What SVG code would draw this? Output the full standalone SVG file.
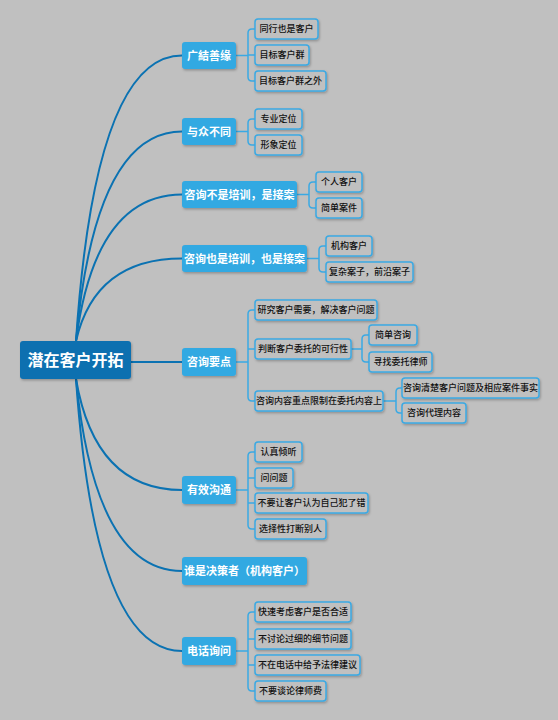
<svg xmlns="http://www.w3.org/2000/svg" width="558" height="720" viewBox="0 0 558 720">
<defs>
<filter id="sh" x="-10%" y="-20%" width="130%" height="160%">
<feDropShadow dx="1" dy="1.5" stdDeviation="1" flood-color="#000" flood-opacity="0.25"/>
</filter>
<style>
.root rect{fill:#0b70b0;filter:url(#sh)}
.root text{fill:#fff;font:bold 16px "Noto Sans CJK SC","Noto Sans",sans-serif;text-anchor:middle}
.br rect{fill:#33a9e2;filter:url(#sh)}
.br text{fill:#fff;font:bold 11px "Noto Sans CJK SC","Noto Sans",sans-serif;text-anchor:middle}
.lf rect{fill:#c0c0c0;stroke:#3aa9e3;stroke-width:1.5;filter:url(#sh)}
.lf text{fill:#111;font:500 9px "Noto Sans CJK SC","Noto Sans",sans-serif;text-anchor:middle}
.main path{fill:none;stroke:#0b72b2;stroke-width:2;stroke-linecap:round}
.sub path{fill:none;stroke:#3aa9e3;stroke-width:1.5}
</style>
</defs>
<rect width="558" height="720" fill="#c0c0c0"/>

<g id="connectors">
<g class="main">
<path d="M76 341 Q95 55.5 182 55.5"/>
<path d="M76 341 Q95 131.5 182 131.5"/>
<path d="M76 341 Q95 194.5 182 194.5"/>
<path d="M76 341 Q95 258.5 182 258.5"/>
<path d="M131 362 H182"/>
<path d="M76 379 Q95 490 182 490"/>
<path d="M76 379 Q95 571 182 571"/>
<path d="M76 379 Q95 651 182 651"/>
</g>
<g class="sub">
<!-- 广結善缘 -->
<path d="M236 55.5 H248 M255 29 H252 Q248 29 248 33 V77 Q248 81 252 81 H255 M248 55 H255"/>
<!-- 与众不同 -->
<path d="M236 131.5 H248 M255 119 H252 Q248 119 248 123 V141 Q248 145 252 145 H255"/>
<!-- 咨询不是培训 -->
<path d="M297 194.5 H309 M316 182 H313 Q309 182 309 186 V204 Q309 208 313 208 H316"/>
<!-- 咨询也是培训 -->
<path d="M307 258.5 H319 M326 246 H323 Q319 246 319 250 V268 Q319 272 323 272 H326"/>
<!-- 咨询要点 -->
<path d="M236 362 H248 M255 310 H252 Q248 310 248 314 V397 Q248 401 252 401 H255 M248 349 H255"/>
<path d="M351 349 H362 M369 335 H366 Q362 335 362 339 V358 Q362 362 366 362 H369"/>
<path d="M383 401 H396 M402 388 H400 Q396 388 396 392 V409 Q396 413 400 413 H402"/>
<!-- 有效沟通 -->
<path d="M236 490 H248 M255 452 H252 Q248 452 248 456 V525 Q248 529 252 529 H255 M248 478 H255 M248 503 H255"/>
<!-- 电话询问 -->
<path d="M236 651 H248 M255 612 H252 Q248 612 248 616 V687 Q248 691 252 691 H255 M248 639 H255 M248 665 H255"/>
</g>
</g>

<g id="root" class="root"><rect x="20" y="341" width="111" height="38" rx="3"/><text x="75.5" y="366">潜在客户开拓</text></g>

<g id="b1" class="br"><rect x="182" y="42" width="54" height="27" rx="3"/><text x="209" y="59.7">广結善缘</text></g>
<g id="b1c1" class="lf"><rect x="255" y="19" width="63" height="20" rx="3"/><text x="286.5" y="32.4">同行也是客户</text></g>
<g id="b1c2" class="lf"><rect x="255" y="45" width="54" height="20" rx="3"/><text x="282" y="58.4">目标客户群</text></g>
<g id="b1c3" class="lf"><rect x="255" y="71" width="71" height="20" rx="3"/><text x="290.5" y="84.4">目标客户群之外</text></g>

<g id="b2" class="br"><rect x="182" y="118" width="54" height="27" rx="3"/><text x="209" y="135.7">与众不同</text></g>
<g id="b2c1" class="lf"><rect x="255" y="109" width="47" height="20" rx="3"/><text x="278.5" y="122.4">专业定位</text></g>
<g id="b2c2" class="lf"><rect x="255" y="135" width="47" height="20" rx="3"/><text x="278.5" y="148.4">形象定位</text></g>

<g id="b3" class="br"><rect x="182" y="181" width="115" height="27" rx="3"/><text x="239.5" y="198.7">咨询不是培训，是接案</text></g>
<g id="b3c1" class="lf"><rect x="316" y="172" width="46" height="20" rx="3"/><text x="339" y="185.4">个人客户</text></g>
<g id="b3c2" class="lf"><rect x="316" y="198" width="46" height="20" rx="3"/><text x="339" y="211.4">简单案件</text></g>

<g id="b4" class="br"><rect x="182" y="245" width="125" height="27" rx="3"/><text x="244.5" y="262.7">咨询也是培训，也是接案</text></g>
<g id="b4c1" class="lf"><rect x="326" y="236" width="46" height="20" rx="3"/><text x="349" y="249.4">机构客户</text></g>
<g id="b4c2" class="lf"><rect x="326" y="262" width="87" height="20" rx="3"/><text x="369.5" y="275.4">复杂案子，前沿案子</text></g>

<g id="b5" class="br"><rect x="182" y="348" width="54" height="28" rx="3"/><text x="209" y="366.2">咨询要点</text></g>
<g id="b5c1" class="lf"><rect x="255" y="300" width="122" height="20" rx="3"/><text x="316" y="313.4">研究客户需要，解决客户问题</text></g>
<g id="b5c2" class="lf"><rect x="255" y="339" width="96" height="20" rx="3"/><text x="303" y="352.4">判断客户委托的可行性</text></g>
<g id="b5c2a" class="lf"><rect x="369" y="325" width="48" height="20" rx="3"/><text x="393" y="338.4">简单咨询</text></g>
<g id="b5c2b" class="lf"><rect x="369" y="352" width="63" height="20" rx="3"/><text x="400.5" y="365.4">寻找委托律师</text></g>
<g id="b5c3" class="lf"><rect x="255" y="391" width="128" height="20" rx="3"/><text x="319" y="404.4">咨询内容重点限制在委托内容上</text></g>
<g id="b5c3a" class="lf"><rect x="402" y="378" width="137" height="20" rx="3"/><text x="470.5" y="391.4">咨询清楚客户问题及相应案件事实</text></g>
<g id="b5c3b" class="lf"><rect x="402" y="403" width="64" height="20" rx="3"/><text x="434" y="416.4">咨询代理内容</text></g>

<g id="b6" class="br"><rect x="182" y="476" width="54" height="28" rx="3"/><text x="209" y="494.2">有效沟通</text></g>
<g id="b6c1" class="lf"><rect x="255" y="442" width="47" height="20" rx="3"/><text x="278.5" y="455.4">认真倾听</text></g>
<g id="b6c2" class="lf"><rect x="255" y="468" width="38" height="20" rx="3"/><text x="274" y="481.4">问问题</text></g>
<g id="b6c3" class="lf"><rect x="255" y="493" width="113" height="20" rx="3"/><text x="311.5" y="506.4">不要让客户认为自己犯了错</text></g>
<g id="b6c4" class="lf"><rect x="255" y="519" width="71" height="20" rx="3"/><text x="290.5" y="532.4">选择性打断别人</text></g>

<g id="b7" class="br"><rect x="182" y="557" width="125" height="28" rx="3"/><text x="244.5" y="575.2">谁是决策者（机构客户）</text></g>

<g id="b8" class="br"><rect x="182" y="637" width="54" height="28" rx="3"/><text x="209" y="655.2">电话询问</text></g>
<g id="b8c1" class="lf"><rect x="255" y="602" width="96" height="20" rx="3"/><text x="303" y="615.4">快速考虑客户是否合适</text></g>
<g id="b8c2" class="lf"><rect x="255" y="629" width="96" height="20" rx="3"/><text x="303" y="642.4">不讨论过细的细节问题</text></g>
<g id="b8c3" class="lf"><rect x="255" y="655" width="105" height="20" rx="3"/><text x="307.5" y="668.4">不在电话中给予法律建议</text></g>
<g id="b8c4" class="lf"><rect x="255" y="681" width="71" height="20" rx="3"/><text x="290.5" y="694.4">不要谈论律师费</text></g>
</svg>
